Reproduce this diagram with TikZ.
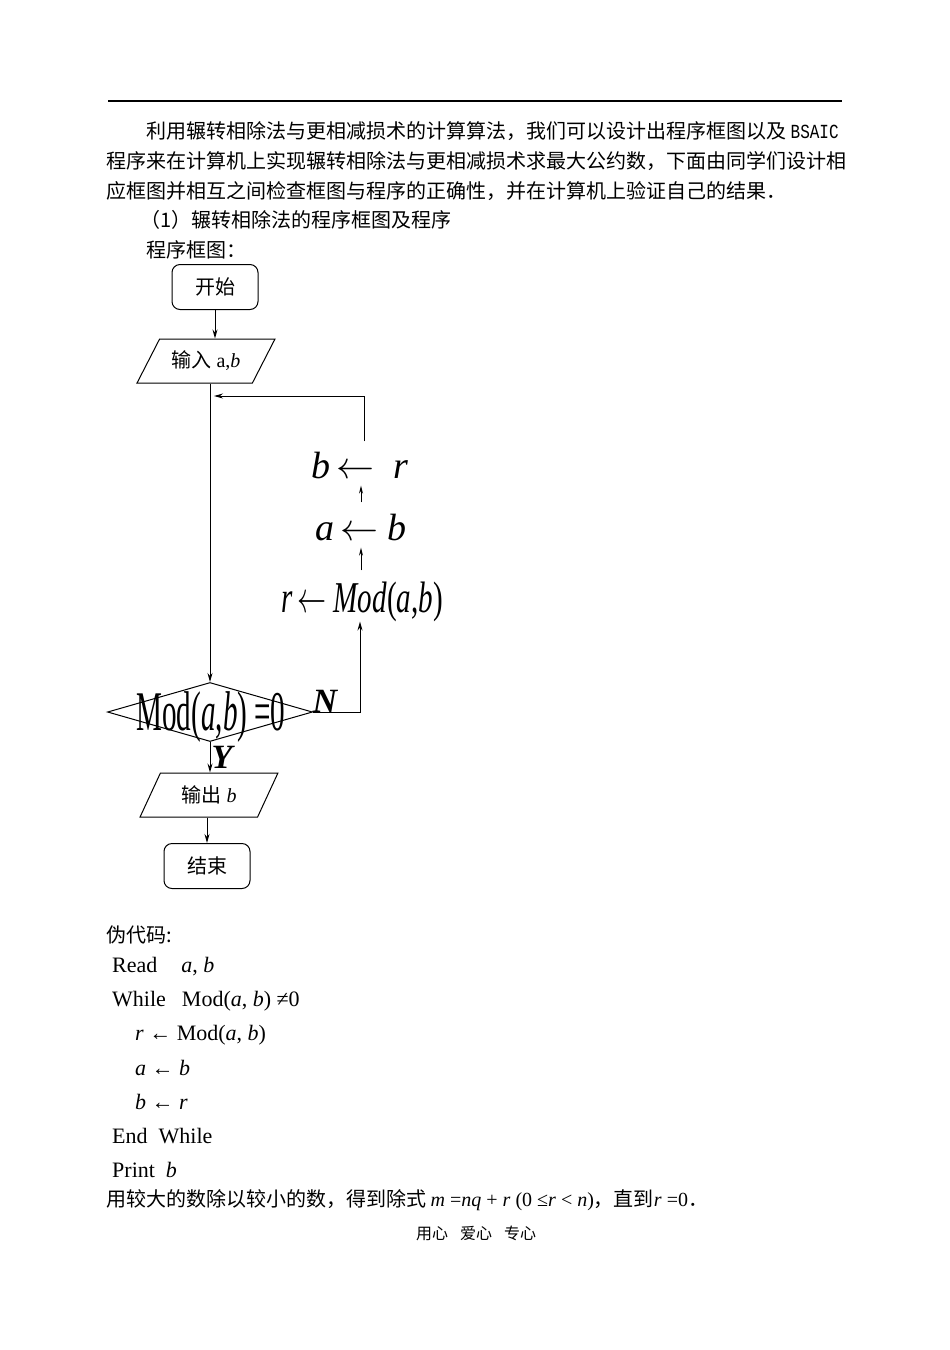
\RequirePackage{fix-cm}
\documentclass[tikz,border=0pt]{standalone}
\usepackage{fontspec}
\setmainfont{Liberation Serif}
\newfontfamily\cjk{Noto Sans CJK SC}
\newfontfamily\codefont{Liberation Mono}
\usetikzlibrary{shapes.geometric,arrows.meta}

\begin{document}
\begin{tikzpicture}[
  x = 1pt, y = -1pt,
  every node/.style = {inner sep=0pt},
  body/.style = {anchor=west, font=\cjk\fontsize{20}{24}\selectfont},
  code/.style = {anchor=base west, font=\fontsize{22}{26}\selectfont},
  term/.style = {rectangle, rounded corners=8pt, draw, line width=1pt,
    minimum width=86pt, minimum height=45pt, font=\cjk\fontsize{20}{24}\selectfont},
  io/.style = {trapezium, trapezium left angle=50, trapezium right angle=130,
    trapezium stretches=true, draw, line width=1pt,
    minimum width=138pt, minimum height=44pt, font=\fontsize{20}{24}\selectfont},
  decision/.style = {diamond, draw, line width=1pt,
    minimum width=205pt, minimum height=59pt},
  assign/.style = {anchor=base, font=\fontsize{38}{42}\selectfont},
  yn/.style = {anchor=base, font=\fontsize{34}{38}\selectfont\bfseries\itshape},
  arr/.style = {-{Stealth[length=9pt,width=5pt,inset=3pt]}, line width=1pt},
  small_arr/.style = {-{Stealth[length=8pt,width=4pt,inset=2.5pt]},
    line width=1pt, shorten >=7pt, shorten <=11pt}
]
\fill[white] (0,0) rectangle (950,1350);
\useasboundingbox (0,0) rectangle (950,1350);

% header rule and text
\draw[line width=1.5pt] (108,101) -- (842,101);
\node[body] (p1) at (146,131) {利用辗转相除法与更相减损术的计算算法，我们可以设计出程序框图以及 {\codefont\scalebox{0.8}[1]{BSAIC}}};
\node[body] (p2) at (106,161) {程序来在计算机上实现辗转相除法与更相减损术求最大公约数，下面由同学们设计相};
\node[body] (p3) at (106,191) {应框图并相互之间检查框图与程序的正确性，并在计算机上验证自己的结果．};
\node[body] (p4) at (140,220) {（1）辗转相除法的程序框图及程序};
\node[body] (p5) at (146,250) {程序框图：};

% flowchart
\node[term] (start) at (215,287) {开始};
\node[io] (in) at (206,361) {{\cjk 输入} a,\textit{b}};
\node[decision] (cond) at (210,712) {};
\node[anchor=base, font=\fontsize{56}{60}\selectfont] (cond_txt) at (211,730)
  {\scalebox{0.52}[1]{Mod(\textit{a},\textit{b}) =0}};
\node[yn] (no) at (325,712) {N};
\node[yn] (yes) at (222,768) {Y};
\node[io, trapezium left angle=58, trapezium right angle=122] (out) at (209,795)
  {{\cjk 输出} \textit{b}};
\node[term] (stop) at (207,866) {结束};

\node[assign, font=\fontsize{44}{48}\selectfont] (rm) at (362,612)
  {\scalebox{0.66}[1]{\textit{r}\,$\leftarrow$\ \textit{Mod}(\textit{a},\textit{b})}};
\node[assign] (ar) at (361,540) {\textit{a}\,$\leftarrow$\ \textit{b}};
\node[assign] (br) at (360,478) {\textit{b}\,$\leftarrow$\ \ \textit{r}};
\coordinate (back) at (214,396);

\draw[arr] (start.south) -- (start.south |- in.north);
\draw[arr] (cond.north |- in.south) -- (cond.north);
\draw[arr] (cond.east) -| ([xshift=-2pt]rm.south);
\draw[small_arr] (ar.south |- rm.north) -- (ar.south);
\draw[small_arr] (ar.north) -- (ar.north |- br.south);
\draw[arr] ([shift={(4,-10)}]br.north) |- (back);
\draw[arr] (cond.south) -- (cond.south |- out.north);
\draw[arr] (stop.north |- out.south) -- (stop.north);

% pseudocode
\node[body] (pc) at (106,935) {伪代码:};
\node[code] (c1) at (112,972) {Read\hspace{24pt}\textit{a}, \textit{b}};
\node[code] (c2) at (112,1006) {While\hspace{16pt}Mod(\textit{a}, \textit{b}) ≠0};
\node[code] (c3) at (135,1040) {\textit{r} ← Mod(\textit{a}, \textit{b})};
\node[code] (c4) at (135,1075) {\textit{a} ← \textit{b}};
\node[code] (c5) at (135,1109) {\textit{b} ← \textit{r}};
\node[code] (c6) at (112,1143) {End\ \ While};
\node[code] (c7) at (112,1177) {Print\ \ \textit{b}};
\node[body] (last) at (106,1200) {用较大的数除以较小的数，得到除式 {\rmfamily\textit{m} =\textit{nq} + \textit{r} (0 ≤\textit{r} < \textit{n})}，直到{\rmfamily\textit{r} =0}．};
\node[font=\cjk\fontsize{16}{20}\selectfont] (foot) at (476,1233)
  {用心\hspace{12pt}爱心\hspace{12pt}专心};
\end{tikzpicture}
\end{document}
